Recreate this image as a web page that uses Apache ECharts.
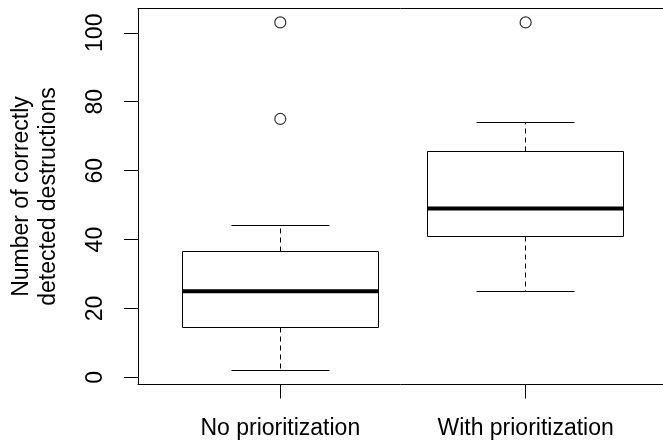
<!DOCTYPE html>
<html>
<head>
<meta charset="utf-8">
<script src="https://cdn.jsdelivr.net/npm/echarts@6/dist/echarts.min.js"></script>
<style>html,body{margin:0;padding:0;background:#fff;}#c{width:663px;height:441px;}</style>
</head>
<body>
<div id="c"></div>
<script>
var categories = ['No prioritization', 'With prioritization'];
// [lower whisker, Q1, median, Q3, upper whisker]
var boxNo = [2, 14.5, 25, 36.5, 44];
var boxWith = [25, 41, 49, 65.5, 74];
var outliersNo = [75, 103];
var outliersWith = [103];
var yTicks = [0, 20, 40, 60, 80, 100];
var yName = 'Number of correctly\ndetected destructions';

var boxData = [[1].concat(boxNo), [2].concat(boxWith)];
var outlierData = outliersNo.map(function (v) { return [1, v]; })
  .concat(outliersWith.map(function (v) { return [2, v]; }));

var FONT = 'Liberation Sans';
var chart = echarts.init(document.getElementById('c'), null, {renderer: 'canvas'});

function px(v) { return Math.round(v - 0.5) + 0.5; }

var frameLine = {show: true, onZero: false, lineStyle: {color: '#000', width: 1}};

chart.setOption({
  animation: false,
  backgroundColor: '#fff',
  grid: {left: 138, top: 8.5, right: 0, height: 376},
  xAxis: [{
    type: 'value', min: 0.42, max: 2.56, position: 'bottom',
    axisLine: frameLine,
    splitLine: {show: false},
    axisTick: {show: true, customValues: [1, 2], length: 14, lineStyle: {color: '#000', width: 1}},
    axisLabel: {
      customValues: [1, 2], margin: 33,
      formatter: function (v) { return categories[Math.round(v) - 1] || ''; },
      color: '#000', fontFamily: FONT, fontSize: 23
    }
  }, {
    type: 'value', min: 0.42, max: 2.56, position: 'top',
    axisLine: frameLine,
    splitLine: {show: false}, axisTick: {show: false}, axisLabel: {show: false}
  }],
  yAxis: {
    type: 'value', min: -2.04, max: 107.04,
    axisLine: frameLine,
    splitLine: {show: false},
    axisTick: {show: true, customValues: yTicks, length: 14, lineStyle: {color: '#000', width: 1}},
    axisLabel: {customValues: yTicks, rotate: 90, margin: 31, color: '#000', fontFamily: FONT, fontSize: 23},
    name: yName, nameLocation: 'middle', nameRotate: 90, nameGap: 76,
    nameTextStyle: {color: '#000', fontFamily: FONT, fontSize: 23, lineHeight: 27}
  },
  series: [
    {
      type: 'custom',
      data: boxData,
      encode: {x: 0, y: [1, 2, 3, 4, 5]},
      renderItem: function (params, api) {
        var x = api.value(0);
        var lo = api.value(1), q1 = api.value(2), md = api.value(3), q3 = api.value(4), hi = api.value(5);
        var half = api.size([0.4, 0])[0];
        var cap = api.size([0.2, 0])[0];
        var cx = px(api.coord([x, md])[0]);
        var yLo = px(api.coord([x, lo])[1]);
        var yQ1 = px(api.coord([x, q1])[1]);
        var yMd = api.coord([x, md])[1];
        var yQ3 = px(api.coord([x, q3])[1]);
        var yHi = px(api.coord([x, hi])[1]);
        var xl = px(cx - half), xr = px(cx + half);
        var thin = {stroke: '#000', lineWidth: 1, fill: null};
        var dash = {stroke: '#000', lineWidth: 1, lineDash: [5, 4], fill: null};
        return {
          type: 'group',
          children: [
            {type: 'line', shape: {x1: cx, y1: yQ1, x2: cx, y2: yLo}, style: dash},
            {type: 'line', shape: {x1: cx, y1: yQ3, x2: cx, y2: yHi}, style: dash},
            {type: 'line', shape: {x1: px(cx - cap), y1: yLo, x2: px(cx + cap), y2: yLo}, style: thin},
            {type: 'line', shape: {x1: px(cx - cap), y1: yHi, x2: px(cx + cap), y2: yHi}, style: thin},
            {type: 'rect', shape: {x: xl, y: yQ3, width: xr - xl, height: yQ1 - yQ3}, style: {stroke: '#000', lineWidth: 1, fill: '#fff'}},
            {type: 'line', shape: {x1: xl, y1: yMd, x2: xr, y2: yMd}, style: {stroke: '#000', lineWidth: 4}}
          ]
        };
      }
    },
    {
      type: 'scatter',
      data: outlierData,
      symbol: 'circle',
      symbolSize: 11,
      itemStyle: {color: '#fff', borderColor: '#000', borderWidth: 1.2}
    }
  ]
});
</script>
</body>
</html>
